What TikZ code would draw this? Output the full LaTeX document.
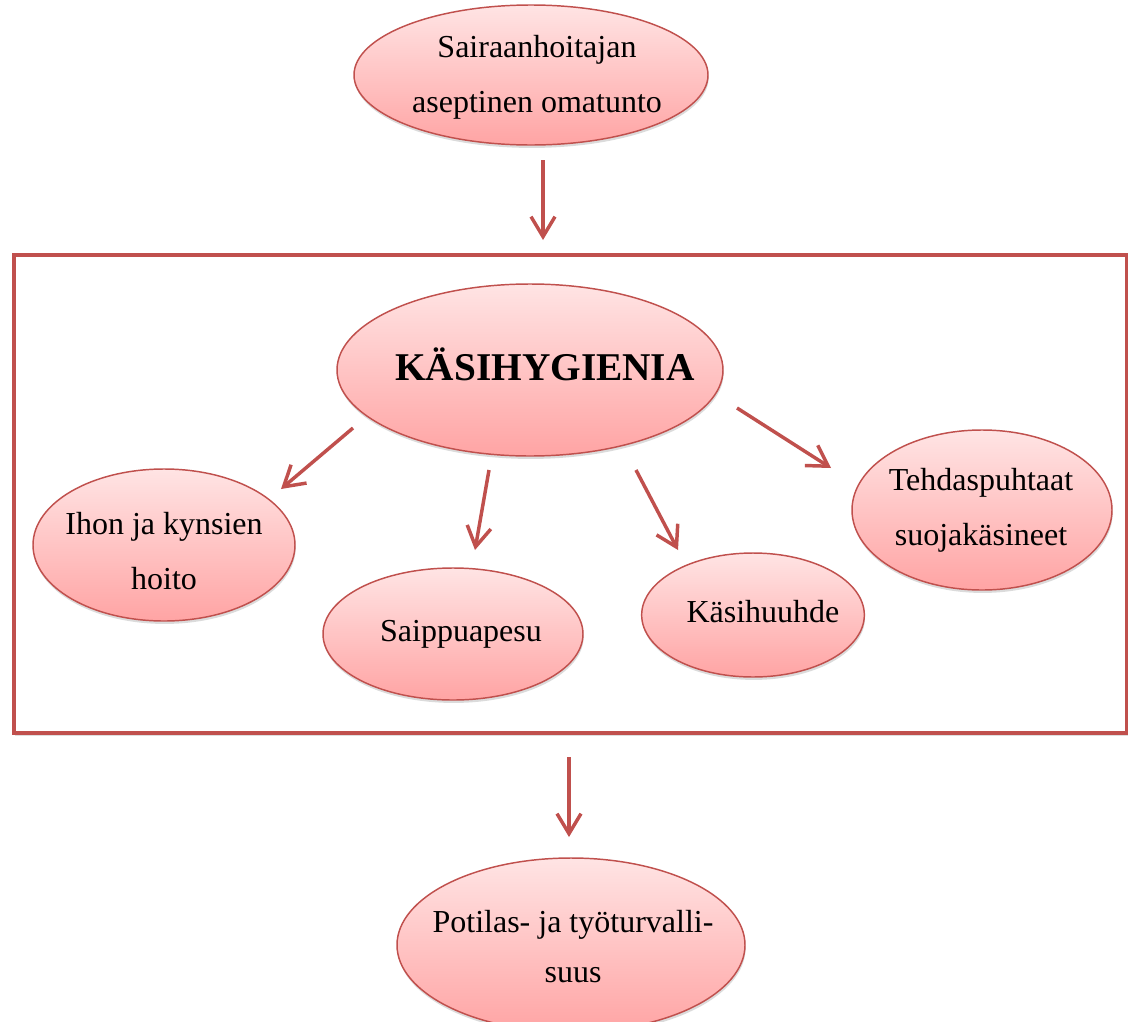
\documentclass[tikz,border=0pt]{standalone}
\usepackage{fontspec}
\setmainfont{Liberation Serif}
\usetikzlibrary{arrows.meta,shadows,shapes.geometric}
\definecolor{brd}{RGB}{192,80,77}
\definecolor{ptop}{RGB}{255,228,228}
\definecolor{pbot}{RGB}{255,164,164}
\tikzset{
  pell/.style={ellipse, draw=brd, line width=1.1pt, top color=ptop, bottom color=pbot,
    inner sep=0pt, outer sep=0pt,
    drop shadow={shadow xshift=0.5pt, shadow yshift=-2.2pt, fill=black, opacity=0.14}},
  ptext/.style={align=center, inner sep=0pt, font=\fontsize{24pt}{41.25pt}\selectfont},
  parrow/.style={draw=brd, line width=2.6pt, -{Straight Barb[length=15pt, width=18pt, line width=2.6pt]}},
  frame/.style={draw=brd, line width=3.2pt,
    drop shadow={shadow xshift=0.8pt, shadow yshift=-2pt, fill=black, opacity=0.13}}
}
\begin{document}
\begin{tikzpicture}[x=0.75pt, y=-0.75pt]
\useasboundingbox (0,0) rectangle (1128,1021);
\clip (0,0) rectangle (1128,1021);
% frame
\node[frame, fill=white, minimum width=834.75pt, minimum height=358.5pt, inner sep=0pt, anchor=north west] (box) at (12,253) {};
% ellipses
\node[pell, minimum width=265.5pt, minimum height=105pt] (top) at (531,75) {};
\node[pell, minimum width=289.5pt, minimum height=129pt] (k) at (530,370) {};
\node[pell, minimum width=196.5pt, minimum height=114pt] (ihon) at (164,545) {};
\node[pell, minimum width=195pt, minimum height=99pt] (saip) at (453,634) {};
\node[pell, minimum width=167pt, minimum height=93pt] (kasi) at (753,615) {};
\node[pell, minimum width=195pt, minimum height=120pt] (teh) at (982,510) {};
\node[pell, minimum width=261pt, minimum height=130.5pt] (bot) at (571,945) {};
% texts
\node[ptext] (toptxt) at (537,77) {Sairaanhoitajan\\aseptinen omatunto};
\node[ptext, font=\fontsize{29.5pt}{34pt}\selectfont\bfseries] (ktxt) at (545,364) {KÄSIHYGIENIA};
\node[ptext] (ihontxt) at (164,551) {Ihon ja kynsien\\hoito};
\node[ptext] (saiptxt) at (461,634) {Saippuapesu};
\node[ptext] (kasitxt) at (763,612) {Käsihuuhde};
\node[ptext] (tehtxt) at (981,510) {Tehdaspuhtaat\\suojakäsineet};
\node[ptext, font=\fontsize{24pt}{37.5pt}\selectfont] (bottxt) at (573,947) {Potilas- ja työturvalli-\\suus};
% arrow end points
\coordinate (a0s) at (543,160); \coordinate (a0e) at (543,240);
\coordinate (aAs) at (353,428); \coordinate (aAe) at (281,489);
\coordinate (aBs) at (489,470); \coordinate (aBe) at (475,550);
\coordinate (aCs) at (636,470); \coordinate (aCe) at (678,550);
\coordinate (aDs) at (737,408); \coordinate (aDe) at (831,468);
\coordinate (a5s) at (569,757); \coordinate (a5e) at (569,837);
\draw[parrow] (a0s) -- (a0e);
\draw[parrow] (aAs) -- (aAe);
\draw[parrow] (aBs) -- (aBe);
\draw[parrow] (aCs) -- (aCe);
\draw[parrow] (aDs) -- (aDe);
\draw[parrow] (a5s) -- (a5e);
\end{tikzpicture}
\end{document}
